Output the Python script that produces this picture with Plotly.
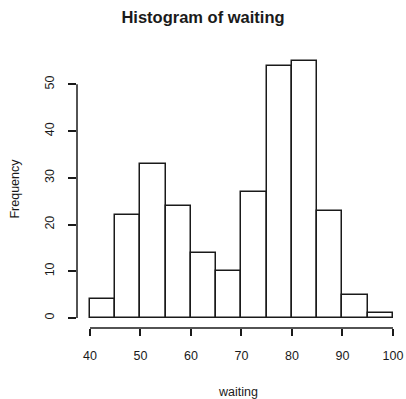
import plotly.graph_objects as go

breaks = [40, 45, 50, 55, 60, 65, 70, 75, 80, 85, 90, 95, 100]
counts = [4, 22, 33, 24, 14, 10, 27, 54, 55, 23, 5, 1]
x_ticks = [40, 50, 60, 70, 80, 90, 100]
y_ticks = [0, 10, 20, 30, 40, 50]

centers = [(a + b) / 2 for a, b in zip(breaks[:-1], breaks[1:])]
widths = [b - a for a, b in zip(breaks[:-1], breaks[1:])]

ink = "#1a1a1a"
font = dict(family="Liberation Sans, Arial, sans-serif", size=12.5, color=ink)

fig = go.Figure(go.Bar(
    x=centers, y=counts, width=widths,
    marker=dict(color="white", line=dict(color=ink, width=1.5)),
))

fig.update_layout(
    width=406, height=399,
    margin=dict(l=77, r=6, t=50, b=71),
    paper_bgcolor="white", plot_bgcolor="white",
    showlegend=False,
    font=font,
    title=dict(text="<b>Histogram of waiting</b>", x=0.5, xanchor="center",
               y=1 - 17 / 399, yanchor="middle",
               font=dict(family="Liberation Sans, Arial, sans-serif", size=16.5, color=ink)),
    bargap=0,
)

fig.update_xaxes(
    range=[37.43, 101.39], tickvals=x_ticks, ticks="outside", ticklen=7,
    tickwidth=1.5, tickcolor=ink, showgrid=False, zeroline=False, showline=False,
    ticklabelstandoff=9, automargin=False,
    title=dict(text="waiting", standoff=26, font=font),
)
fig.update_yaxes(
    range=[-2.14, 57.35], tickvals=y_ticks, ticks="outside", ticklen=8,
    tickwidth=1.5, tickcolor=ink, showgrid=False, zeroline=False, showline=False,
    tickangle=-90, ticklabelstandoff=9, automargin=False,
    title=dict(text="Frequency", standoff=20, font=font),
)

fig.add_shape(type="line", xref="x", yref="paper", x0=x_ticks[0], x1=x_ticks[-1], y0=0, y1=0,
              line=dict(color=ink, width=1.5))
fig.add_shape(type="line", xref="paper", yref="y", x0=0, x1=0, y0=y_ticks[0], y1=y_ticks[-1],
              line=dict(color=ink, width=1.5))

fig.write_html("out.html")
